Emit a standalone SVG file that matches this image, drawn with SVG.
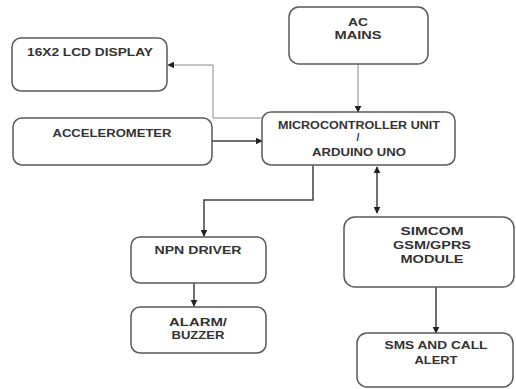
<svg xmlns="http://www.w3.org/2000/svg" width="516" height="389" viewBox="0 0 516 389">
<style>
.box{fill:#fff;stroke:#5a5a5a;stroke-width:1.5}
.t{font-family:"Liberation Sans",Arial,sans-serif;font-weight:bold;font-size:10.5px;fill:#333;text-anchor:middle}
.lt{fill:none;stroke:#8a8a8a;stroke-width:1}
.dk{fill:none;stroke:#404040;stroke-width:1.5}
</style>
<defs>
<marker id="ah" viewBox="0 0 10 10" refX="9" refY="5" markerWidth="7" markerHeight="7" markerUnits="userSpaceOnUse" orient="auto-start-reverse">
<path d="M0,0 L10,5 L0,10 z" fill="#222"/>
</marker>
</defs>
<rect width="516" height="389" fill="#fff"/>
<g id="connectors">
<path class="lt" d="M263,118 H213 V65 H168" marker-end="url(#ah)"/>
<path class="dk" d="M212,141 H262" marker-end="url(#ah)"/>
<path class="lt" d="M358,64 V112" marker-end="url(#ah)"/>
<path class="dk" d="M313,165 V200 H204 V236" marker-end="url(#ah)"/>
<path class="dk" d="M377,167 V213" marker-start="url(#ah)" marker-end="url(#ah)"/>
<path class="dk" d="M194,283 V306" marker-end="url(#ah)"/>
<path class="dk" d="M436,287 V333" marker-end="url(#ah)"/>
</g>
<g id="lcd">
<rect class="box" x="12" y="38" width="155" height="53" rx="9"/>
<text class="t" x="90" y="56" textLength="126" lengthAdjust="spacingAndGlyphs">16X2 LCD DISPLAY</text>
</g>
<g id="accelerometer">
<rect class="box" x="13" y="118" width="199" height="47" rx="9"/>
<text class="t" x="112" y="137" textLength="119" lengthAdjust="spacingAndGlyphs">ACCELEROMETER</text>
</g>
<g id="ac-mains">
<rect class="box" x="289" y="7" width="139" height="57" rx="10"/>
<text class="t" x="358" y="26" textLength="20" lengthAdjust="spacingAndGlyphs">AC</text>
<text class="t" x="358" y="39" textLength="47" lengthAdjust="spacingAndGlyphs">MAINS</text>
</g>
<g id="mcu">
<rect class="box" x="262" y="112" width="193" height="53" rx="9"/>
<text class="t" x="359" y="129" textLength="162" lengthAdjust="spacingAndGlyphs">MICROCONTROLLER UNIT</text>
<text class="t" x="358" y="141">/</text>
<text class="t" x="359" y="156" textLength="94" lengthAdjust="spacingAndGlyphs">ARDUINO UNO</text>
</g>
<g id="npn">
<rect class="box" x="131" y="237" width="135" height="46" rx="9"/>
<text class="t" x="198" y="254" textLength="87" lengthAdjust="spacingAndGlyphs">NPN DRIVER</text>
</g>
<g id="alarm">
<rect class="box" x="131" y="307" width="135" height="46" rx="9"/>
<text class="t" x="198" y="326" textLength="58" lengthAdjust="spacingAndGlyphs">ALARM/</text>
<text class="t" x="198" y="339" textLength="53" lengthAdjust="spacingAndGlyphs">BUZZER</text>
</g>
<g id="simcom">
<rect class="box" x="344" y="217" width="170" height="70" rx="11"/>
<text class="t" x="432" y="235" textLength="63" lengthAdjust="spacingAndGlyphs">SIMCOM</text>
<text class="t" x="432" y="249" textLength="78" lengthAdjust="spacingAndGlyphs">GSM/GPRS</text>
<text class="t" x="432" y="263" textLength="63" lengthAdjust="spacingAndGlyphs">MODULE</text>
</g>
<g id="sms">
<rect class="box" x="357" y="333" width="156" height="54" rx="10"/>
<text class="t" x="436" y="349" textLength="103" lengthAdjust="spacingAndGlyphs">SMS AND CALL</text>
<text class="t" x="436" y="364" textLength="43" lengthAdjust="spacingAndGlyphs">ALERT</text>
</g>
</svg>
